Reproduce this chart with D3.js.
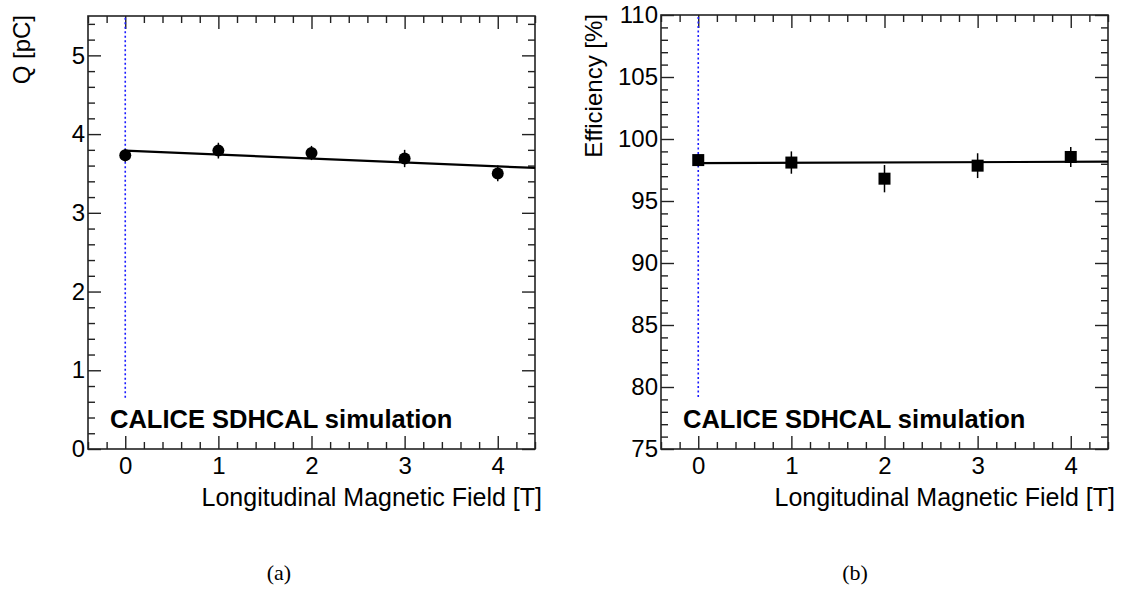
<!DOCTYPE html>
<html>
<head>
<meta charset="utf-8">
<script src="https://cdn.jsdelivr.net/npm/d3@7"></script>
<style>
  html, body { margin: 0; padding: 0; background: #fff; }
  svg { display: block; }
  text { font-family: "Liberation Sans", Arial, Helvetica, sans-serif; fill: #000; }
</style>
</head>
<body>
<svg id="chart" width="1128" height="590"></svg>
<script>
// ---------- data ----------
const fieldValues = [0, 1, 2, 3, 4];               // Longitudinal magnetic field [T]
const xMajorTicks = [0, 1, 2, 3, 4];
const xDomain = [-0.4, 4.4];

// Panel (a): charge
const chargeValues = [3.73, 3.79, 3.76, 3.69, 3.50]; // Q [pC]
const chargeErrors = [0.08, 0.10, 0.09, 0.11, 0.10];
const chargeFitX = [0, 4.4];
const chargeFitY = [3.79, 3.57];
const chargeRefLineY = [0.65, 5.5];                 // blue dotted line at B = 0
const chargeYDomain = [0, 5.5];
const chargeYTicks = [0, 1, 2, 3, 4, 5];

// Panel (b): efficiency
const effValues = [98.3, 98.1, 96.8, 97.85, 98.55]; // Efficiency [%]
const effErrors = [0.5, 0.9, 1.1, 1.0, 0.8];
const effFitX = [0, 4.4];
const effFitY = [98.06, 98.17];
const effRefLineY = [79.2, 110];
const effYDomain = [75, 110];
const effYTicks = [75, 80, 85, 90, 95, 100, 105, 110];

const xTitle = "Longitudinal Magnetic Field [T]";
const stampText = "CALICE SDHCAL simulation";

// ---------- drawing ----------
const svg = d3.select("#chart");

function range(a, b, step) {
  const out = [];
  for (let v = a; v <= b + 1e-9; v += step) out.push(+v.toFixed(6));
  return out;
}

function drawPanel(cfg) {
  const g = svg.append("g");
  const x = d3.scaleLinear().domain(xDomain).range([cfg.left, cfg.right]);
  const y = d3.scaleLinear().domain(cfg.yDomain).range([cfg.bottom, cfg.top]);
  const W = cfg.right - cfg.left, H = cfg.bottom - cfg.top;
  const majorLen = 13, minorLen = 7;

  const xMinor = range(xDomain[0], xDomain[1], 0.2).filter(v => !xMajorTicks.some(t => Math.abs(t - v) < 1e-6));
  const yMinor = range(cfg.yDomain[0], cfg.yDomain[1], cfg.yMinorStep).filter(v => !cfg.yTicks.some(t => Math.abs(t - v) < 1e-6));

  const tickStyle = sel => {
    sel.select(".domain").remove();
    sel.selectAll(".tick line").attr("stroke", "#222").attr("stroke-width", 1.4);
  };
  const labelStyle = s => s.selectAll("text")
    .style("font-size", "24px").style("font-family", "Liberation Sans, Arial, sans-serif").attr("fill", "#000");

  // bottom axis (labels) with inward ticks
  g.append("g").attr("transform", `translate(0,${cfg.bottom})`)
    .call(d3.axisBottom(x).tickValues(xMajorTicks).tickSizeInner(-majorLen).tickSizeOuter(0).tickPadding(8).tickFormat(d3.format("d")))
    .call(tickStyle).call(labelStyle);
  g.append("g").attr("transform", `translate(0,${cfg.bottom})`)
    .call(d3.axisBottom(x).tickValues(xMinor).tickSizeInner(-minorLen).tickSizeOuter(0).tickFormat(""))
    .call(tickStyle);
  // top axis ticks
  g.append("g").attr("transform", `translate(0,${cfg.top})`)
    .call(d3.axisTop(x).tickValues(xMajorTicks).tickSizeInner(-majorLen).tickSizeOuter(0).tickFormat(""))
    .call(tickStyle);
  g.append("g").attr("transform", `translate(0,${cfg.top})`)
    .call(d3.axisTop(x).tickValues(xMinor).tickSizeInner(-minorLen).tickSizeOuter(0).tickFormat(""))
    .call(tickStyle);
  // left axis (labels)
  g.append("g").attr("transform", `translate(${cfg.left},0)`)
    .call(d3.axisLeft(y).tickValues(cfg.yTicks).tickSizeInner(-majorLen).tickSizeOuter(0).tickPadding(3).tickFormat(d3.format("d")))
    .call(tickStyle).call(labelStyle);
  g.append("g").attr("transform", `translate(${cfg.left},0)`)
    .call(d3.axisLeft(y).tickValues(yMinor).tickSizeInner(-minorLen).tickSizeOuter(0).tickFormat(""))
    .call(tickStyle);
  // right axis ticks
  g.append("g").attr("transform", `translate(${cfg.right},0)`)
    .call(d3.axisRight(y).tickValues(cfg.yTicks).tickSizeInner(-majorLen).tickSizeOuter(0).tickFormat(""))
    .call(tickStyle);
  g.append("g").attr("transform", `translate(${cfg.right},0)`)
    .call(d3.axisRight(y).tickValues(yMinor).tickSizeInner(-minorLen).tickSizeOuter(0).tickFormat(""))
    .call(tickStyle);

  // frame
  g.append("rect").attr("x", cfg.left).attr("y", cfg.top).attr("width", W).attr("height", H)
    .attr("fill", "none").attr("stroke", "#222").attr("stroke-width", 1.6);

  // blue dotted reference line at B = 0
  g.append("line")
    .attr("x1", x(0)).attr("x2", x(0))
    .attr("y1", y(cfg.refY[0])).attr("y2", y(cfg.refY[1]))
    .attr("stroke", "#1a1aff").attr("stroke-width", 1.6).attr("stroke-dasharray", "2,2.5");

  // fit line
  g.append("path")
    .datum(cfg.fitX.map((v, i) => [v, cfg.fitY[i]]))
    .attr("d", d3.line().x(d => x(d[0])).y(d => y(d[1])))
    .attr("fill", "none").attr("stroke", "#000").attr("stroke-width", 2.2);

  // error bars
  g.selectAll(".err").data(fieldValues).enter().append("line")
    .attr("x1", d => x(d)).attr("x2", d => x(d))
    .attr("y1", (d, i) => y(cfg.values[i] - cfg.errors[i]))
    .attr("y2", (d, i) => y(cfg.values[i] + cfg.errors[i]))
    .attr("stroke", "#000").attr("stroke-width", 1.5);

  // markers
  if (cfg.marker === "circle") {
    g.selectAll(".mk").data(fieldValues).enter().append("circle")
      .attr("cx", d => x(d)).attr("cy", (d, i) => y(cfg.values[i])).attr("r", 6)
      .attr("fill", "#000");
  } else {
    const s = 12;
    g.selectAll(".mk").data(fieldValues).enter().append("rect")
      .attr("x", d => x(d) - s / 2).attr("y", (d, i) => y(cfg.values[i]) - s / 2)
      .attr("width", s).attr("height", s).attr("fill", "#000");
  }

  // stamp
  g.append("text").attr("x", cfg.left + 22).attr("y", cfg.bottom - 21)
    .style("font-size", "25.5px").style("font-weight", "bold").text(stampText);

  // y title
  g.append("text")
    .attr("transform", `translate(${cfg.yTitleX},${cfg.top - 1}) rotate(-90)`)
    .attr("text-anchor", "end").style("font-size", "24px").text(cfg.yTitle);

  // x title
  g.append("text").attr("x", cfg.right + 7).attr("y", cfg.bottom + 57)
    .attr("text-anchor", "end").style("font-size", "25px").text(xTitle);

  // caption
  g.append("text").attr("x", cfg.captionX).attr("y", 580)
    .attr("text-anchor", "middle")
    .style("font-family", "Liberation Serif, Times New Roman, serif").style("font-size", "22px")
    .text(cfg.caption);
}

drawPanel({
  left: 88, right: 535, top: 16, bottom: 449,
  yDomain: chargeYDomain, yTicks: chargeYTicks, yMinorStep: 0.2,
  values: chargeValues, errors: chargeErrors,
  fitX: chargeFitX, fitY: chargeFitY, refY: chargeRefLineY,
  marker: "circle", yTitle: "Q [pC]", yTitleX: 30,
  caption: "(a)", captionX: 279
});

drawPanel({
  left: 661, right: 1108, top: 15, bottom: 449,
  yDomain: effYDomain, yTicks: effYTicks, yMinorStep: 1,
  values: effValues, errors: effErrors,
  fitX: effFitX, fitY: effFitY, refY: effRefLineY,
  marker: "square", yTitle: "Efficiency [%]", yTitleX: 602,
  caption: "(b)", captionX: 855
});
</script>
</body>
</html>
